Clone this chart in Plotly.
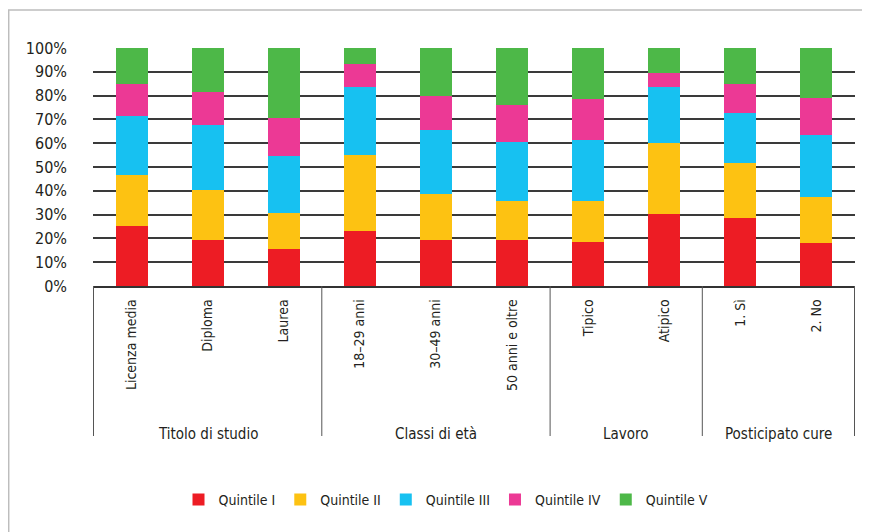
import plotly.graph_objects as go

categories = ["Licenza media", "Diploma", "Laurea",
              "18–29 anni", "30–49 anni", "50 anni e oltre",
              "Tipico", "Atipico",
              "1. Sì", "2. No"]
groups = ["Titolo di studio", "Classi di età", "Lavoro", "Posticipato cure"]
group_sizes = [3, 3, 2, 2]

series_names = ["Quintile I", "Quintile II", "Quintile III", "Quintile IV", "Quintile V"]
q1 = [25.1, 19.2, 15.4, 23.0, 19.5, 19.5, 18.3, 30.1, 28.7, 18.0]
q2 = [21.6, 21.3, 15.4, 32.1, 19.3, 16.4, 17.6, 30.0, 23.0, 19.3]
q3 = [24.7, 27.2, 24.0, 28.5, 26.8, 24.6, 25.6, 23.5, 20.9, 26.1]
q4 = [13.5, 13.9, 15.8, 9.7, 14.3, 15.5, 17.0, 5.8, 12.3, 15.7]
q5 = [15.1, 18.4, 29.4, 6.7, 20.1, 24.0, 21.5, 10.6, 15.1, 20.9]
series_values = [q1, q2, q3, q4, q5]
colors = ["#ED1C24", "#FDC212", "#17C1F1", "#EC3995", "#4DB848"]

y_ticks = list(range(0, 101, 10))
y_ticklabels = [f"{v}%" for v in y_ticks]

FONT = "Liberation Sans Narrow, Arial Narrow, DejaVu Sans Condensed, sans-serif"
TXT = "#231F20"

fig = go.Figure()
for name, vals, col in zip(series_names, series_values, colors):
    fig.add_trace(go.Bar(x=categories, y=vals, name=name, marker_color=col,
                         marker_line_width=0))

# page body has an 8px margin: the figure starts at (8, 8) in the window
OFF = 8
W, H = 870 - OFF, 532 - OFF
L, R, T, B = 93 - OFF, 15, 48 - OFF, 246
pw, ph = W - L - R, H - T - B

def py(pix):  # window pixel y -> paper y
    return (H - B - (pix - OFF)) / ph

def px(pix):
    return ((pix - OFF) - L) / pw

shapes = []
bounds = [0]
for s in group_sizes:
    bounds.append(bounds[-1] + s)
for b in bounds:
    shapes.append(dict(type="line", xref="x", yref="paper", x0=b - 0.5, x1=b - 0.5,
                       y0=0, y1=py(436), line=dict(color="#555555", width=1)))
# outer frame
shapes.append(dict(type="rect", xref="paper", yref="paper",
                   x0=px(8.7), x1=px(900), y0=py(10), y1=py(560),
                   line=dict(color="#BDBDBD", width=1.5), fillcolor="rgba(0,0,0,0)",
                   layer="below"))

annotations = []
for g, lo, hi in zip(groups, bounds[:-1], bounds[1:]):
    annotations.append(dict(x=(lo + hi - 1) / 2, xref="x", y=py(434), yref="paper",
                            text=g, showarrow=False, yanchor="middle",
                            font=dict(family=FONT, size=15, color=TXT)))

fig.update_layout(
    width=W, height=H,
    margin=dict(l=L, r=R, t=T, b=B, pad=0),
    paper_bgcolor="white", plot_bgcolor="white",
    barmode="stack", bargap=0.58,
    font=dict(family=FONT, size=15, color=TXT),
    shapes=shapes, annotations=annotations,
    legend=dict(orientation="h", x=px(446), xanchor="center", y=py(500), yanchor="middle",
                font=dict(family=FONT, size=14, color=TXT), traceorder="normal",
                itemwidth=30, bgcolor="rgba(0,0,0,0)"),
    xaxis=dict(type="category", tickangle=-90, showgrid=False, ticks="",
               tickfont=dict(family=FONT, size=14, color=TXT),
               showline=True, linecolor="#333333", linewidth=1.5,
               ticklabelstandoff=6, fixedrange=True),
    yaxis=dict(range=[0, 100], tickvals=y_ticks, ticktext=y_ticklabels,
               showgrid=True, gridcolor="#3a3a3a", gridwidth=1.5,
               zeroline=False, showline=False, ticks="",
               tickfont=dict(family=FONT, size=16, color=TXT),
               ticklabelstandoff=25, fixedrange=True),
)

fig.write_html("out.html")
